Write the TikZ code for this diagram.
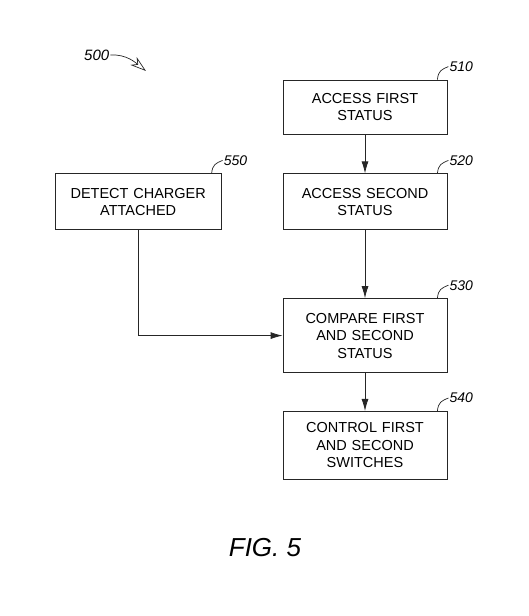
\documentclass[tikz,border=0pt]{standalone}
\usepackage{fontspec}
\setmainfont{Liberation Sans}
\usetikzlibrary{positioning, arrows.meta}

\begin{document}
\begin{tikzpicture}[x=1pt, y=1pt,
            stepbox/.style={draw=black!85, line width=0.8pt, align=center, text width=150pt, minimum width=164pt, minimum height=56pt, font=\fontsize{14.5}{17.5}\selectfont, inner sep=2pt},
            tallbox/.style={stepbox, minimum height=72pt},
            refnum/.style={font=\fontsize{14}{14}\itshape, anchor=west, inner sep=1pt},
            leader/.style={black!85, line width=0.7pt},
            arrow/.style={-{Latex[length=12pt, width=7pt]}, black!85, line width=0.8pt}
        ]
            \useasboundingbox (0,0) rectangle (528,616);

            \node[stepbox, minimum height=54pt] (access1) at (365,509) {ACCESS FIRST\\STATUS};
            \node[stepbox, below=39pt of access1] (access2) {ACCESS SECOND\\STATUS};
            \node[stepbox, minimum width=166pt, left=61pt of access2] (detect) {DETECT CHARGER\\ATTACHED};
            \node[tallbox, below=68pt of access2, minimum height=74pt] (compare) {COMPARE FIRST\\AND SECOND\\STATUS};
            \node[tallbox, below=38pt of compare, minimum height=68pt] (control) {CONTROL FIRST\\AND SECOND\\SWITCHES};

            % reference numerals
            \node[refnum] (lbl510) at ([xshift=1pt, yshift=13pt]access1.north east) {510};
            \node[refnum] (lbl520) at ([xshift=1pt, yshift=13pt]access2.north east) {520};
            \node[refnum] (lbl550) at ([xshift=1pt, yshift=13pt]detect.north east) {550};
            \node[refnum] (lbl530) at ([xshift=1pt, yshift=13pt]compare.north east) {530};
            \node[refnum] (lbl540) at ([xshift=1pt, yshift=13pt]control.north east) {540};
            \node[refnum, font=\fontsize{15}{15}\itshape] (lbl500) at (83,561) {500};
            \node[font=\fontsize{26}{26}\itshape] (figname) at (265,68) {FIG. 5};

            \draw[leader] ([xshift=-10pt]access1.north east) .. controls +(1,9) and +(-7,-3) .. (lbl510.west);
            \draw[leader] ([xshift=-10pt]access2.north east) .. controls +(1,9) and +(-7,-3) .. (lbl520.west);
            \draw[leader] ([xshift=-10pt]detect.north east) .. controls +(1,9) and +(-7,-3) .. (lbl550.west);
            \draw[leader] ([xshift=-10pt]compare.north east) .. controls +(1,9) and +(-7,-3) .. (lbl530.west);
            \draw[leader] ([xshift=-10pt]control.north east) .. controls +(1,9) and +(-7,-3) .. (lbl540.west);

            \coordinate (tip500) at (146,545);
            \draw[leader, -{Stealth[open, length=16pt, width=10pt, inset=5pt]}] (lbl500.east) .. controls +(16,1) and +(-10,8) .. (tip500);

            \draw[arrow] (access1) -- (access2);
            \draw[arrow] (access2) -- (compare);
            \draw[arrow] (compare) -- (control);
            \draw[arrow] (detect.south) |- (compare.west);

        \end{tikzpicture}
\end{document}
